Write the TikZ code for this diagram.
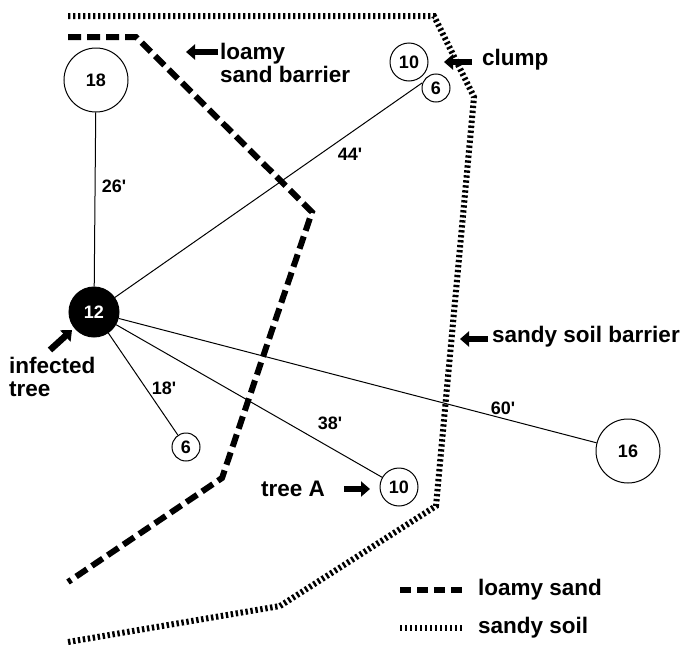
\documentclass[tikz,border=0pt]{standalone}
\usepackage{fontspec}
\setmainfont{Liberation Sans}[Ligatures=TeXOff]
\usetikzlibrary{arrows.meta}
\begin{document}
\begin{tikzpicture}[x=1pt,y=-1pt,
  tree/.style={circle,draw,line width=1pt,inner sep=0pt,font=\fontsize{18}{18}\selectfont\bfseries},
  dist/.style={font=\fontsize{18}{18}\selectfont\bfseries},
  lbl/.style={font=\fontsize{22.5}{22.5}\selectfont\bfseries,align=left,inner sep=0pt},
  loamy/.style={line width=6pt,dash pattern=on 13pt off 6pt},
  sandy/.style={line width=6pt,dash pattern=on 2.4pt off 2.6pt},
  blockarrow/.style={line width=6.5pt,-{Triangle[length=9pt,width=15pt]}},
  link/.style={line width=1pt}]
\useasboundingbox (0,0) rectangle (689,648);
% soil boundaries
\draw[sandy] (68,16) -- (434,16) -- (474,97) -- (436,506) -- (280,606) -- (68,642);
\draw[loamy] (68,37) -- (136,37) -- (312,212) -- (222,478) -- (68,582);
% trees
\node[tree,minimum size=64pt] (t18) at (96,80) {18};
\node[tree,minimum size=38pt] (c10) at (409,62) {10};
\node[tree,minimum size=28pt] (c6) at (436,88) {6};
\node[tree,minimum size=50pt,fill=black,text=white] (inf) at (94,312) {12};
\node[tree,minimum size=28pt] (s6) at (186,447) {6};
\node[tree,minimum size=38pt] (ta) at (399,487) {10};
\node[tree,minimum size=64pt] (t16) at (628,451) {16};
\coordinate (cj) at (422,83);
% links
\draw[link] (inf) -- (t18);
\draw[link] (inf) -- (cj);
\draw[link] (inf) -- (s6);
\draw[link] (inf) -- (ta);
\draw[link] (inf) -- (t16);
% distances
\node[dist] (d26) at (114,186) {26'};
\node[dist] (d44) at (350,154) {44'};
\node[dist] (d18) at (164,388) {18'};
\node[dist] (d38) at (330,423) {38'};
\node[dist] (d60) at (503,408) {60'};
% labels and arrows
\node[lbl,anchor=west] (llsb) at (220,63) {loamy\\sand barrier};
\coordinate (a1s) at (218,52); \coordinate (a1e) at (186,52);
\draw[blockarrow] (a1s) -- (a1e);
\node[lbl,anchor=west] (lclump) at (482,60) {clump};
\coordinate (a2s) at (472,62); \coordinate (a2e) at (444,62);
\draw[blockarrow] (a2s) -- (a2e);
\node[lbl,anchor=west] (lssb) at (492,337) {sandy soil barrier};
\coordinate (a3s) at (488,339); \coordinate (a3e) at (460,339);
\draw[blockarrow] (a3s) -- (a3e);
\node[lbl,anchor=west] (linf) at (9,377) {infected\\tree};
\coordinate (a4s) at (50,350); \coordinate (a4e) at (72,330);
\draw[blockarrow] (a4s) -- (a4e);
\node[lbl,anchor=west] (lta) at (261,489) {tree A};
\coordinate (a5s) at (344,489); \coordinate (a5e) at (370,489);
\draw[blockarrow] (a5s) -- (a5e);
% legend
\coordinate (lg1a) at (400,590); \coordinate (lg1b) at (462,590);
\draw[line width=6pt,dash pattern=on 11pt off 6pt] (lg1a) -- (lg1b);
\node[lbl,anchor=west] (lgl) at (478,590) {loamy sand};
\coordinate (lg2a) at (400,628); \coordinate (lg2b) at (462,628);
\draw[sandy] (lg2a) -- (lg2b);
\node[lbl,anchor=west] (lgs) at (478,628) {sandy soil};
\end{tikzpicture}
\end{document}
